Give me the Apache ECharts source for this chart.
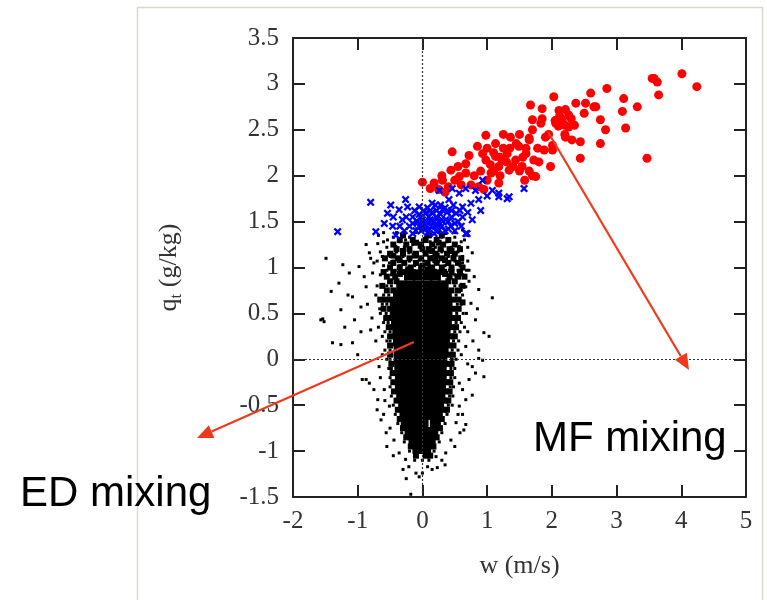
<!DOCTYPE html>
<html><head><meta charset="utf-8">
<script src="https://cdn.jsdelivr.net/npm/echarts@6/dist/echarts.min.js"></script>
<style>html,body{margin:0;padding:0;background:#fff}#c{width:767px;height:600px}</style>
</head><body><div id="c"></div>
<script>
// ---- axis ticks ----
const xTicks = [-2, -1, 0, 1, 2, 3, 4, 5];
const yTicks = [-1.5, -1, -0.5, 0, 0.5, 1, 1.5, 2, 2.5, 3, 3.5];

// ---- black cloud: dense core (w, q_t) ----
const blackCore = [
[-0.2,0.92],[-0.07,0.92],[0.06,0.92],[0.2,0.92],
[-0.32,0.8],[-0.19,0.8],[-0.06,0.8],[0.07,0.8],[0.2,0.8],[0.32,0.8],
[-0.37,0.7],[-0.24,0.7],[-0.11,0.7],[0.02,0.7],[0.15,0.7],[0.28,0.7],[0.37,0.7],
[-0.42,0.6],[-0.29,0.6],[-0.16,0.6],[-0.03,0.6],[0.1,0.6],[0.23,0.6],[0.38,0.6],
[-0.42,0.5],[-0.29,0.5],[-0.16,0.5],[-0.03,0.5],[0.1,0.5],[0.23,0.5],[0.38,0.5],
[-0.4,0.4],[-0.27,0.4],[-0.14,0.4],[-0.01,0.4],[0.12,0.4],[0.25,0.4],[0.37,0.4],
[-0.38,0.3],[-0.25,0.3],[-0.12,0.3],[0.01,0.3],[0.14,0.3],[0.27,0.3],[0.35,0.3],
[-0.37,0.2],[-0.24,0.2],[-0.11,0.2],[0.02,0.2],[0.15,0.2],[0.28,0.2],[0.34,0.2],
[-0.36,0.1],[-0.23,0.1],[-0.1,0.1],[0.03,0.1],[0.16,0.1],[0.32,0.1],
[-0.36,0.0],[-0.23,0.0],[-0.1,0.0],[0.03,0.0],[0.16,0.0],[0.3,0.0],
[-0.35,-0.1],[-0.22,-0.1],[-0.09,-0.1],[0.04,-0.1],[0.17,-0.1],[0.29,-0.1],
[-0.34,-0.2],[-0.21,-0.2],[-0.08,-0.2],[0.05,-0.2],[0.18,-0.2],[0.29,-0.2],
[-0.34,-0.3],[-0.21,-0.3],[-0.08,-0.3],[0.05,-0.3],[0.18,-0.3],[0.28,-0.3],
[-0.32,-0.4],[-0.19,-0.4],[-0.06,-0.4],[0.07,-0.4],[0.2,-0.4],[0.27,-0.4],
[-0.29,-0.5],[-0.16,-0.5],[-0.03,-0.5],[0.1,-0.5],[0.25,-0.5],
[-0.27,-0.6],[-0.14,-0.6],[-0.01,-0.6],[0.12,-0.6],[0.23,-0.6],
[-0.25,-0.7],[-0.12,-0.7],[0.01,-0.7],[0.2,-0.7],
[-0.19,-0.8],[-0.06,-0.8],[0.07,-0.8],[0.16,-0.8],
[-0.13,-0.9],[0,-0.9],[0.12,-0.9],
[-0.07,-0.97],[0.05,-0.97]
];

// ---- black cloud: medium-density band around the core (w, q_t) ----
const blackMid = [
[-0.35,1.3],[-0.15,1.3],[0.05,1.3],[0.22,1.3],[0.4,1.3],
[-0.45,1.25],[-0.25,1.25],[-0.02,1.25],[0.15,1.25],[0.32,1.25],[0.5,1.25],
[-0.4,1.2],[-0.2,1.2],[0,1.2],[0.1,1.2],[0.28,1.2],[0.42,1.2],[0.58,1.2],
[-0.5,1.15],[-0.3,1.15],[-0.1,1.15],[0.05,1.15],[0.2,1.15],[0.38,1.15],[0.5,1.15],
[-0.58,1.1],[-0.38,1.1],[-0.2,1.1],[-0.02,1.1],[0.12,1.1],[0.3,1.1],[0.48,1.1],[0.6,1.1],
[-0.45,1.05],[-0.28,1.05],[-0.1,1.05],[0.08,1.05],[0.22,1.05],[0.4,1.05],[0.55,1.05],
[-0.5,1.0],[-0.35,1.0],[-0.18,1.0],[-0.02,1.0],[0.15,1.0],[0.3,1.0],[0.45,1.0],[0.62,1.0],
[-0.45,0.95],[-0.3,0.95],[0.3,0.95],[0.45,0.95],[0.58,0.95],
[-0.55,0.9],[-0.42,0.9],[0.42,0.9],[0.55,0.9],
[-0.5,0.85],[-0.4,0.85],[0.4,0.85],[0.5,0.85],
[-0.55,0.75],[-0.45,0.75],[0.45,0.75],[0.55,0.75],
[-0.58,0.65],[-0.5,0.65],[0.48,0.65],[0.56,0.65],
[-0.6,0.55],[-0.5,0.55],[0.48,0.55],[0.56,0.55],
[-0.56,0.45],[-0.48,0.45],[0.47,0.45],[0.55,0.45],
[-0.52,0.35],[-0.45,0.35],[0.45,0.35],[0.52,0.35],
[-0.5,0.25],[0.44,0.25],[0.5,0.25],
[-0.5,0.15],[0.42,0.15],[0.48,0.15],
[-0.5,0.05],[0.4,0.05],[0.47,0.05],
[-0.48,-0.05],[0.4,-0.05],[0.45,-0.05],
[-0.46,-0.15],[0.38,-0.15],[0.44,-0.15],
[-0.45,-0.25],[0.38,-0.25],[0.43,-0.25],
[-0.44,-0.35],[0.37,-0.35],[0.42,-0.35],
[-0.4,-0.45],[0.35,-0.45],[0.4,-0.45],
[-0.38,-0.55],[0.33,-0.55],[0.38,-0.55],
[-0.35,-0.65],[0.3,-0.65],
[-0.3,-0.75],[0.27,-0.75],
[-0.25,-0.85],[0.22,-0.85],
[-0.18,-0.95],[0.17,-0.95],
[-0.1,-1.05],[0.05,-1.05],[0.12,-1.05],
[-0.3,1.35],[0.1,1.35],[0.3,1.35],[-0.1,1.27],[0.25,1.27],[-0.3,1.18],[0.15,1.18],[0.45,1.18],
[-0.45,1.13],[-0.12,1.13],[0.22,1.13],[-0.22,0.98],[0.08,0.98],[0.2,1.08],[-0.35,1.08],[0.35,1.08],
[-0.15,0.95],[0.15,0.95],[-0.35,0.93],[0.35,0.93],[0.0,1.02],[-0.6,0.95],[0.65,0.9],[-0.62,0.8],
[0.62,0.8],[-0.65,0.65],[0.62,0.62]
];

// ---- black cloud: scattered outer points (w, q_t) ----
const blackFringe = [
[-1.49,1.10],[-1.41,0.74],[-1.52,0.41],[-1.54,0.44],[-1.26,0.54],[-1.23,1.03],[-1.29,0.83],
[-1.13,0.94],[-1.08,0.68],[-1.05,0.43],[-0.98,1.01],[-0.95,0.57],[-0.87,1.25],[-0.87,0.79],
[-0.82,1.16],[-0.77,0.94],[-0.80,0.32],[-0.69,1.26],[-0.67,0.65],[-0.62,1.12],[-0.54,1.30],
[-0.51,1.05],[-0.41,1.23],[-0.36,0.97],[-0.26,1.30],[-0.21,1.16],[-0.15,1.25],[-0.05,1.08],
[0,1.30],[0.05,1.17],[0.15,1.26],[0.21,1.05],[0.31,1.19],[0.36,0.97],[0.41,1.30],[0.46,1.12],
[0.52,0.90],[0.57,1.23],[0.62,1.05],[0.67,0.79],[0.72,0.97],[0.75,0.61],[0.77,1.16],[0.87,0.76],
[0.82,0.43],[0.95,0.29],[1.08,0.67],[1.03,0.25],[0.62,1.41],[0.36,1.37],[-1.57,0.43],
[-1.39,0.18],[-1.26,0.16],[-1.08,0.18],[-1.0,0.05],[-0.93,-0.22],[-0.82,-0.26],[-0.75,-0.33],
[-0.69,-0.44],[-0.67,-0.08],[-0.64,-0.66],[-0.56,-0.80],[-0.59,-0.33],[-0.62,0.05],[-0.51,-0.51],
[-0.44,-0.88],[-0.36,-1.02],[-0.26,-1.09],[-0.21,-1.17],[-0.10,-1.24],[-0.05,-1.28],[-0.18,-1.47],
[0,-1.24],[0.08,-1.17],[0.15,-1.20],[0.23,-1.18],[0.21,-1.06],[0.36,-1.02],[0.44,-0.88],
[0.52,-0.69],[0.57,-0.51],[0.64,-0.77],[0.67,-0.44],[0.72,-0.22],[0.77,-0.08],[0.82,-0.15],
[0.93,-0.01],[0.67,0.14],[0.87,0.10],[0.57,-0.26],[0.46,0.0],[0.62,-0.33],[0.95,-0.19],
[0.87,0.01],[0.77,-0.39],[0.67,-0.71],[-0.87,-0.22],
[-0.3,1.38],[-0.1,1.38],[0.1,1.38],[0.25,1.38],
[-0.45,1.33],[-0.2,1.33],[0.05,1.33],[0.3,1.33],[0.5,1.33],
[-0.6,1.28],[-0.35,1.28],[-0.12,1.28],[0.12,1.28],[0.38,1.28],[0.6,1.28],
[-0.55,1.22],[-0.28,1.22],[-0.05,1.22],[0.2,1.22],[0.45,1.22],[0.7,1.22],
[-0.65,1.17],[-0.4,1.17],[-0.18,1.17],[0.08,1.17],[0.3,1.17],[0.55,1.17],
[-0.5,1.12],[-0.3,1.12],[-0.08,1.12],[0.15,1.12],[0.4,1.12],[0.62,1.12],
[-0.7,1.07],[-0.45,1.07],[-0.2,1.07],[0.02,1.07],[0.25,1.07],[0.5,1.07],[0.7,1.07],
[-0.6,1.02],[-0.35,1.02],[-0.12,1.02],[0.1,1.02],[0.35,1.02],[0.58,1.02],
[-0.55,0.97],[-0.42,0.97],[-0.25,0.97],[0.0,0.97],[0.2,0.97],[0.42,0.97],[0.55,0.97],[0.68,0.97],
[-0.65,0.92],[-0.48,0.92],[-0.38,0.92],[0.38,0.92],[0.5,0.92],[0.62,0.92],
[-0.55,0.8],[-0.48,0.8],[0.5,0.8],[0.58,0.8],
[-0.6,0.7],[-0.52,0.7],[0.52,0.7],[0.62,0.7],
[-0.62,0.6],[-0.55,0.6],[0.54,0.6],[0.6,0.6],
[-0.65,0.5],[-0.56,0.5],[0.53,0.5],[0.63,0.5],
[-0.6,0.4],[-0.53,0.4],[0.52,0.4],[0.6,0.4],
[-0.58,0.3],[-0.5,0.3],[0.5,0.3],[0.58,0.3],
[-0.55,0.2],[-0.5,0.2],[0.48,0.2],[0.56,0.2],
[-0.58,0.1],[-0.5,0.1],[0.46,0.1],[0.55,0.1],
[-0.55,0.0],[-0.5,0.0],[0.45,0.0],[0.52,0.0],
[-0.52,-0.1],[-0.48,-0.1],[0.44,-0.1],[0.5,-0.1],
[-0.5,-0.2],[0.44,-0.2],[0.5,-0.2],
[-0.5,-0.3],[0.43,-0.3],[0.48,-0.3],
[-0.48,-0.4],[0.42,-0.4],[0.47,-0.4],
[-0.45,-0.5],[0.4,-0.5],[0.46,-0.5],
[-0.42,-0.6],[0.38,-0.6],
[-0.38,-0.7],[0.35,-0.7],
[-0.32,-0.8],[0.3,-0.8],
[-0.28,-0.9],[0.26,-0.9],
[-0.2,-1.0],[0.18,-1.0],[-0.1,-1.03],[0.05,-1.04],
[-0.12,-1.1],[0.0,-1.1],[0.1,-1.1],
[-0.9,0.9],[-0.85,0.6],[-0.78,0.45],[-0.72,0.2],[-0.7,0.8],[-0.75,1.05],[-0.68,0.35],
[-0.65,-0.2],[-0.7,-0.55],[-0.6,-0.6],[-0.58,-0.45],[-0.62,0.25],[-0.66,0.55],[-0.72,0.7],
[-0.95,0.3],[-1.15,0.7],[-1.2,0.35],[-0.55,-0.95],[-0.5,-0.75],[-0.45,-1.05],[-0.3,-1.2],
[-0.25,-1.3],[0.3,-1.1],[0.35,-1.15],[0.5,-0.95],[0.58,-0.8],[0.62,-0.6],[0.7,0.3],[0.68,0.5],
[0.72,0.85],[0.8,0.9],[0.85,0.55],[0.6,0.75],[0.65,0.35],[0.78,0.2],[0.7,-0.05],[0.6,0.05],
[0.55,-0.6],[0.65,1.3],[0.7,1.35],[-0.68,1.35],[-0.8,1.1],[-0.6,1.38],[0.5,1.38],[0.2,1.42],
[-0.1,1.42],[-0.4,1.38]
];

// ---- blue points (w, q_t) ----
const bluePts = [
[-1.31,1.39],[-0.80,1.71],[-0.72,1.39],[-0.49,1.68],[-0.54,1.59],[-0.59,1.48],[-0.46,1.45],
[-0.36,1.63],[-0.26,1.74],[-0.23,1.66],[-0.31,1.52],[-0.41,1.35],[-0.15,1.55],[-0.05,1.66],
[0.0,1.52],[-0.05,1.45],[0.05,1.59],[0.10,1.48],[0.15,1.70],[0.21,1.55],[0.26,1.41],[0.31,1.63],
[0.36,1.52],[0.41,1.74],[0.44,1.45],[0.52,1.59],[0.57,1.81],[0.62,1.66],[0.67,1.37],[0.77,1.52],
[0.82,1.84],[0.87,1.74],[0.93,1.95],[1.08,1.84],[1.18,1.77],[1.34,1.77],[0.26,1.84],[0.46,1.86],
[0.67,1.86],[0.18,1.37],[-0.15,1.37],[-0.28,1.40],[1.18,1.81],[1.31,1.75],[1.57,1.86],[0.69,1.37],
[0.0,1.45],[0.1,1.42],[0.2,1.45],[0.05,1.5],[0.15,1.6],[-0.1,1.4],[0.25,1.5],[-0.05,1.58],
[0.12,1.52],[0.3,1.45],[0.4,1.42],[0.5,1.4],[-0.2,1.45],[0.35,1.65],[0.45,1.55],[0.55,1.5],
[0.2,1.68],[0.08,1.65],[-0.12,1.62],[0.6,1.45],[0.7,1.6],[0.75,1.7],[-0.02,1.4],[0.08,1.38],
[0.22,1.4],[-0.08,1.5],[0.02,1.62],[0.28,1.58],[0.38,1.6],[0.48,1.68],[0.9,1.62],[1.0,1.78],
[-0.35,1.45],[-0.45,1.55],[0.58,1.62],
[0.05,1.42],[0.15,1.44],[0.25,1.46],[0.1,1.55],[0.18,1.5],[-0.03,1.55],[0.22,1.62],[0.3,1.52],
[0.02,1.48],[-0.15,1.48],[0.4,1.5],[0.12,1.62],[0.28,1.68],[0.5,1.48],[0.62,1.55],[0.35,1.4],
[-0.25,1.55],[0.45,1.62]
];

// ---- red points (w, q_t) ----
const redPts = [
[0.0,1.93],[0.18,1.92],[0.31,1.95],[0.44,2.06],[0.46,2.26],[0.57,1.99],[0.67,2.13],[0.67,2.03],
[0.85,2.32],[0.87,1.88],[0.98,2.44],[0.98,2.17],[1.06,2.03],[1.13,2.35],[1.13,2.21],[1.18,2.10],
[1.18,1.92],[1.23,2.17],[1.31,2.24],[1.34,2.06],[1.36,2.42],[1.44,2.17],[1.49,2.32],[1.54,2.10],
[1.60,2.24],[1.65,2.39],[1.67,2.77],[1.70,2.50],[1.72,2.17],[1.75,1.99],[1.83,2.57],[1.85,2.73],
[1.88,2.28],[1.90,2.42],[1.98,2.10],[2.01,2.33],[2.03,2.86],[2.06,2.57],[2.10,2.54],[2.16,2.61],
[2.21,2.72],[2.26,2.53],[2.31,2.39],[2.37,2.79],[2.44,2.37],[2.44,2.19],[2.50,2.68],[2.52,2.79],
[2.60,2.90],[2.65,2.75],[2.75,2.61],[2.75,2.35],[2.83,2.50],[2.85,2.95],[3.09,2.70],[3.11,2.84],
[3.14,2.52],[3.32,2.75],[3.47,2.19],[3.55,3.06],[3.63,3.02],[3.65,2.88],[4.01,3.11],[4.24,2.97],
[0.93,2.24],[1.0,2.3],[1.1,2.25],[1.2,2.2],[1.25,2.3],[1.3,2.15],[1.4,2.1],[1.5,2.05],[1.55,2.2],
[1.6,2.3],[1.35,2.3],[0.9,2.05],[0.8,2.0],[0.75,1.9],[0.6,1.9],[0.5,1.95],[0.4,1.88],[0.25,1.85],
[0.3,2.0],[1.0,1.95],[1.65,2.05],[1.78,2.3],[1.95,2.45],[2.2,2.45],[2.35,2.55],[2.05,2.6],
[1.1,2.05],[1.2,2.0],[1.45,2.35],[1.5,2.45],[1.25,2.45],[1.05,2.12],[0.95,1.85],[0.55,2.1],
[0.35,1.82],[0.12,1.86],[0.72,2.22],[1.58,1.95],[1.7,2.0],[1.8,2.15],[2.12,2.65],[2.2,2.55],
[2.3,2.62],[1.70,2.61],[2.11,2.71],[2.68,2.75],[3.58,3.06],[2.01,2.28],[1.65,2.41],[1.85,2.62],
[2.26,2.66],[2.21,2.42]
];

const serif = "'Liberation Serif','DejaVu Serif',serif";
const sans = "'Liberation Sans',Arial,sans-serif";
const axisCol = '#222';
const xShape = 'path://M0,2L2,0L5,3L8,0L10,2L7,5L10,8L8,10L5,7L2,10L0,8L3,5Z';

function xAx(pos, showLabel) {
  return {
    type: 'value', min: xTicks[0], max: xTicks[xTicks.length-1], interval: 1, position: pos,
    axisLine: {show: true, onZero: false, lineStyle: {color: axisCol, width: 2}},
    axisTick: {show: true, inside: true, length: 12, lineStyle: {color: axisCol, width: 2}},
    axisLabel: {show: showLabel, margin: 12, fontFamily: serif, fontSize: 25, color: '#333'},
    splitLine: {show: false}
  };
}
function yAx(pos, showLabel) {
  return {
    type: 'value', min: yTicks[0], max: yTicks[yTicks.length-1], interval: 0.5, position: pos,
    axisLine: {show: true, onZero: false, lineStyle: {color: axisCol, width: 2}},
    axisTick: {show: true, inside: true, length: 12, lineStyle: {color: axisCol, width: 2}},
    axisLabel: {show: showLabel, margin: 14, fontFamily: serif, fontSize: 25, color: '#333'},
    splitLine: {show: false}
  };
}

const xBottom = Object.assign(xAx('bottom', true), {
  name: 'w (m/s)', nameLocation: 'middle', nameGap: 56,
  nameTextStyle: {fontFamily: serif, fontSize: 26, color: '#333'}
});
const yLeft = Object.assign(yAx('left', true), {
  name: '{a|q}{b|t}{a| (g/kg)}', nameLocation: 'middle', nameGap: 108,
  nameTextStyle: {color: '#333', rich: {
    a: {fontFamily: serif, fontSize: 26, color: '#333', lineHeight: 32},
    b: {fontFamily: serif, fontSize: 17, color: '#333', lineHeight: 16, verticalAlign: 'bottom'}
  }}
});

const chart = echarts.init(document.getElementById('c'), null, {renderer: 'canvas'});

function arrow(x1, y1, x2, y2, col) {
  const ang = Math.atan2(y2 - y1, x2 - x1);
  const L = 16, W = 7;
  const bx = x2 - L * Math.cos(ang), by = y2 - L * Math.sin(ang);
  const px = -Math.sin(ang) * W, py = Math.cos(ang) * W;
  return [
    {type: 'line', z: 100, shape: {x1: x1, y1: y1, x2: bx, y2: by}, style: {stroke: col, lineWidth: 2.2}},
    {type: 'polygon', z: 100, shape: {points: [[x2, y2], [bx + px, by + py], [bx - px, by - py]]}, style: {fill: col}}
  ];
}
const arrowCol = '#ee3a1c';

chart.setOption({
  animation: false,
  backgroundColor: '#fff',
  grid: {left: 293, right: 21, top: 38, bottom: 103, show: false},
  xAxis: [xBottom, xAx('top', false)],
  yAxis: [yLeft, yAx('right', false)],
  series: [
    {type: 'scatter', data: [], z: 1, silent: true,
     markLine: {silent: true, symbol: ['none', 'none'], label: {show: false},
       lineStyle: {color: '#333', type: [2, 2], width: 1.2},
       data: [{xAxis: 0}, {yAxis: 0}]}},
    {type: 'scatter', data: blackCore, symbol: 'rect', symbolSize: 11, itemStyle: {color: '#000', opacity: 1}, z: 2, silent: true},
    {type: 'scatter', data: blackMid, symbol: 'rect', symbolSize: 6, itemStyle: {color: '#000', opacity: 1}, z: 2, silent: true},
    {type: 'scatter', data: blackFringe, symbol: 'rect', symbolSize: 3, itemStyle: {color: '#000', opacity: 1}, z: 2, silent: true},
    {type: 'scatter', data: redPts, symbol: 'circle', symbolSize: 9, itemStyle: {color: '#ff0000', opacity: 1}, z: 3, silent: true},
    {type: 'scatter', data: bluePts, symbol: xShape, symbolSize: 8, itemStyle: {color: '#0000ff', opacity: 1}, z: 4, silent: true}
  ],
  graphic: [
    {type: 'rect', z: 0, shape: {x: 137.5, y: 7.5, width: 625, height: 640}, style: {fill: 'none', stroke: '#d8dacb', lineWidth: 1.5}},
    ...arrow(414, 342, 197, 438, arrowCol),
    ...arrow(548, 132, 689, 370, arrowCol),
    {type: 'text', z: 100, style: {x: 20, y: 494, text: 'ED mixing', font: '42px ' + sans, fill: '#000', verticalAlign: 'middle'}},
    {type: 'text', z: 100, style: {x: 533, y: 439, text: 'MF mixing', font: '42px ' + sans, fill: '#000', verticalAlign: 'middle'}}
  ]
});
</script>
</body></html>
